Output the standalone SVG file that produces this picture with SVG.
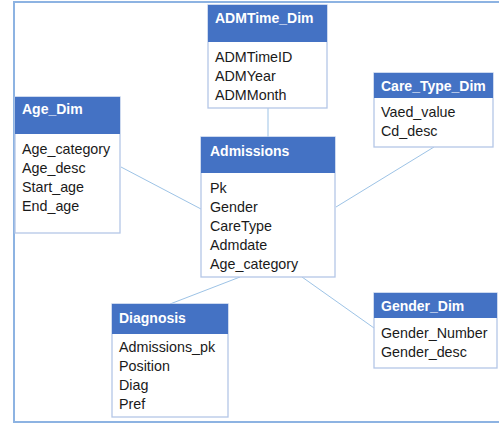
<svg xmlns="http://www.w3.org/2000/svg" width="499" height="424" viewBox="0 0 499 424">
<style>
.hdr{fill:#4472c4;}
.box{fill:#ffffff;stroke:#b4c7e7;stroke-width:1.3;}
.ttl{font-family:"Liberation Sans",Arial,sans-serif;font-weight:bold;font-size:14px;fill:#ffffff;}
.fld{font-family:"Liberation Sans",Arial,sans-serif;font-size:14.3px;fill:#1a1a1a;}
.con{stroke:#9dc3e6;stroke-width:1;fill:none;}
</style>
<rect x="0" y="0" width="499" height="424" fill="#ffffff"/>
<path d="M505,2 H14 V422 H505" fill="none" stroke="#8db3e2" stroke-width="2"/>
<g id="connectors">
<line class="con" x1="268" y1="108" x2="268" y2="137"/>
<line class="con" x1="121" y1="167" x2="201" y2="209"/>
<line class="con" x1="434" y1="147" x2="336" y2="207"/>
<line class="con" x1="170" y1="304" x2="240" y2="277"/>
<line class="con" x1="302" y1="277" x2="374" y2="328"/>
</g>
<g id="ADMTime_Dim">
<rect class="box" x="208" y="5" width="119" height="103"/>
<rect class="hdr" x="208" y="5" width="119" height="37"/>
<text class="ttl" x="215" y="23">ADMTime_Dim</text>
<text class="fld" x="215" y="62">ADMTimeID</text>
<text class="fld" x="215" y="81">ADMYear</text>
<text class="fld" x="215" y="100">ADMMonth</text>
</g>
<g id="Age_Dim">
<rect class="box" x="15" y="97" width="105" height="136"/>
<rect class="hdr" x="15" y="97" width="105" height="37"/>
<text class="ttl" x="22" y="114">Age_Dim</text>
<text class="fld" x="22" y="154">Age_category</text>
<text class="fld" x="22" y="173">Age_desc</text>
<text class="fld" x="22" y="192">Start_age</text>
<text class="fld" x="22" y="211">End_age</text>
</g>
<g id="Admissions">
<rect class="box" x="201" y="137" width="134" height="140"/>
<rect class="hdr" x="201" y="137" width="134" height="36"/>
<text class="ttl" x="210" y="156">Admissions</text>
<text class="fld" x="210" y="193">Pk</text>
<text class="fld" x="210" y="212">Gender</text>
<text class="fld" x="210" y="231">CareType</text>
<text class="fld" x="210" y="250">Admdate</text>
<text class="fld" x="210" y="269">Age_category</text>
</g>
<g id="Care_Type_Dim">
<rect class="box" x="374" y="73" width="119" height="74"/>
<rect class="hdr" x="374" y="73" width="119" height="25"/>
<text class="ttl" x="381" y="91">Care_Type_Dim</text>
<text class="fld" x="381" y="117">Vaed_value</text>
<text class="fld" x="381" y="136">Cd_desc</text>
</g>
<g id="Diagnosis">
<rect class="box" x="112" y="304" width="116" height="113"/>
<rect class="hdr" x="112" y="304" width="116" height="30"/>
<text class="ttl" x="119" y="323">Diagnosis</text>
<text class="fld" x="119" y="352">Admissions_pk</text>
<text class="fld" x="119" y="371">Position</text>
<text class="fld" x="119" y="390">Diag</text>
<text class="fld" x="119" y="409">Pref</text>
</g>
<g id="Gender_Dim">
<rect class="box" x="374" y="293" width="123" height="75"/>
<rect class="hdr" x="374" y="293" width="123" height="25"/>
<text class="ttl" x="381" y="311">Gender_Dim</text>
<text class="fld" x="381" y="338">Gender_Number</text>
<text class="fld" x="381" y="357">Gender_desc</text>
</g>
</svg>
